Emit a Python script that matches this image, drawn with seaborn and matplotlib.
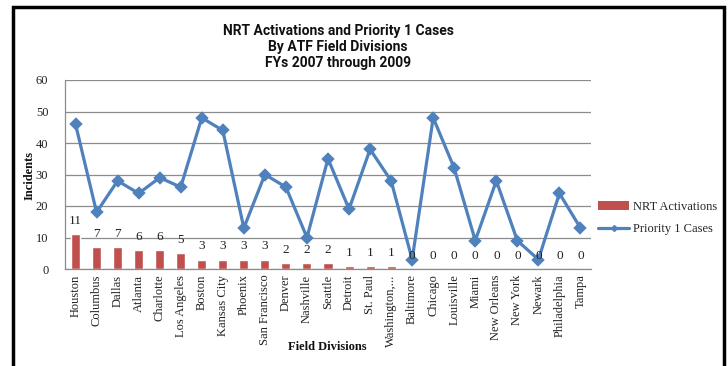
import matplotlib
matplotlib.use("Agg")
import matplotlib.pyplot as plt
from matplotlib.patches import Rectangle, Patch
from matplotlib.lines import Line2D
import seaborn as sns
import pandas as pd

divisions = ["Houston", "Columbus", "Dallas", "Atlanta", "Charlotte", "Los Angeles",
             "Boston", "Kansas City", "Phoenix", "San Francisco", "Denver", "Nashville",
             "Seattle", "Detroit", "St. Paul", "Washington,...", "Baltimore", "Chicago",
             "Louisville", "Miami", "New Orleans", "New York", "Newark", "Philadelphia",
             "Tampa"]
nrt_activations = [11, 7, 7, 6, 6, 5, 3, 3, 3, 3, 2, 2, 2, 1, 1, 1, 0, 0, 0, 0, 0, 0, 0, 0, 0]
priority1_cases = [46, 18, 28, 24, 29, 26, 48, 44, 13, 30, 26, 10, 35, 19, 38, 28, 3, 48,
                   32, 9, 28, 9, 3, 24, 13]
y_ticks = [0, 10, 20, 30, 40, 50, 60]

bar_color = "#C0504D"
line_color = "#4F81BD"
serif = ["Liberation Serif", "DejaVu Serif"]

df = pd.DataFrame({"division": divisions, "nrt": nrt_activations, "p1": priority1_cases})

sns.set_theme(style="white")
plt.rcParams["font.family"] = serif

fig = plt.figure(figsize=(7.28, 3.66), dpi=100)
ax = fig.add_axes([65 / 728, 1 - 269 / 366, (591 - 65) / 728, (269 - 80) / 366])

sns.barplot(data=df, x="division", y="nrt", color=bar_color, width=0.43,
            saturation=1, ax=ax, zorder=2)
sns.pointplot(data=df, x="division", y="p1", color=line_color, markers="D",
              markersize=5.5, linewidth=2.3, ax=ax, zorder=3)

for i, v in enumerate(nrt_activations):
    ax.annotate(str(v), (i, v), xytext=(0, 9.5), textcoords="offset points",
                ha="center", va="center", fontsize=9.5, color="#222222",
                family=serif, zorder=4)

ax.set_ylim(0, 60)
ax.set_xlim(-0.5, len(divisions) - 0.5)
ax.set_yticks(y_ticks)
ax.yaxis.grid(True, color="#8C8C8C", linewidth=0.9)
ax.set_axisbelow(True)
for side in ["top", "right"]:
    ax.spines[side].set_visible(False)
for side in ["left", "bottom"]:
    ax.spines[side].set_color("#8C8C8C")
    ax.spines[side].set_linewidth(0.9)

ax.tick_params(axis="y", labelsize=9, colors="#222222", length=0, pad=12)
ax.tick_params(axis="x", labelsize=9, colors="#222222", length=0, pad=4)
ax.set_xticks(range(len(divisions)))
ax.set_xticklabels(divisions, rotation=90, family=serif)
for lbl in ax.get_yticklabels():
    lbl.set_family(serif)

ax.set_ylabel("")
ax.set_xlabel("")
fig.text(30 / 728, 1 - 175 / 366, "Incidents", fontsize=9, fontweight="bold",
         family=serif, rotation=90, ha="center", va="center", color="#111111")
fig.text(327 / 728, 1 - 347 / 366, "Field Divisions", fontsize=9, fontweight="bold",
         family=serif, ha="center", va="center", color="#111111")

fig.text(338 / 728, 1 - 47 / 366,
         "NRT Activations and Priority 1 Cases\nBy ATF Field Divisions\nFYs 2007 through 2009",
         fontsize=10, fontweight="bold", family=["Roboto", "DejaVu Sans"],
         ha="center", va="center", linespacing=1.2, color="#111111")

handles = [Patch(facecolor=bar_color, edgecolor="none"),
           Line2D([0], [0], color=line_color, linewidth=2.3, marker="D", markersize=3)]
fig.legend(handles, ["NRT Activations", "Priority 1 Cases"], loc="center left",
           bbox_to_anchor=(593 / 728, 1 - 218 / 366), frameon=False,
           prop={"family": serif, "size": 9}, handlelength=2.5, handletextpad=0.3,
           labelspacing=0.8, borderaxespad=0)

fig.patches.append(Rectangle((13 / 728, -0.02), (724 - 13) / 728, 1 - 7 / 366 + 0.02,
                             transform=fig.transFigure, fill=False, edgecolor="black",
                             linewidth=2.5, zorder=10))

fig.savefig("out.png", dpi=100)
